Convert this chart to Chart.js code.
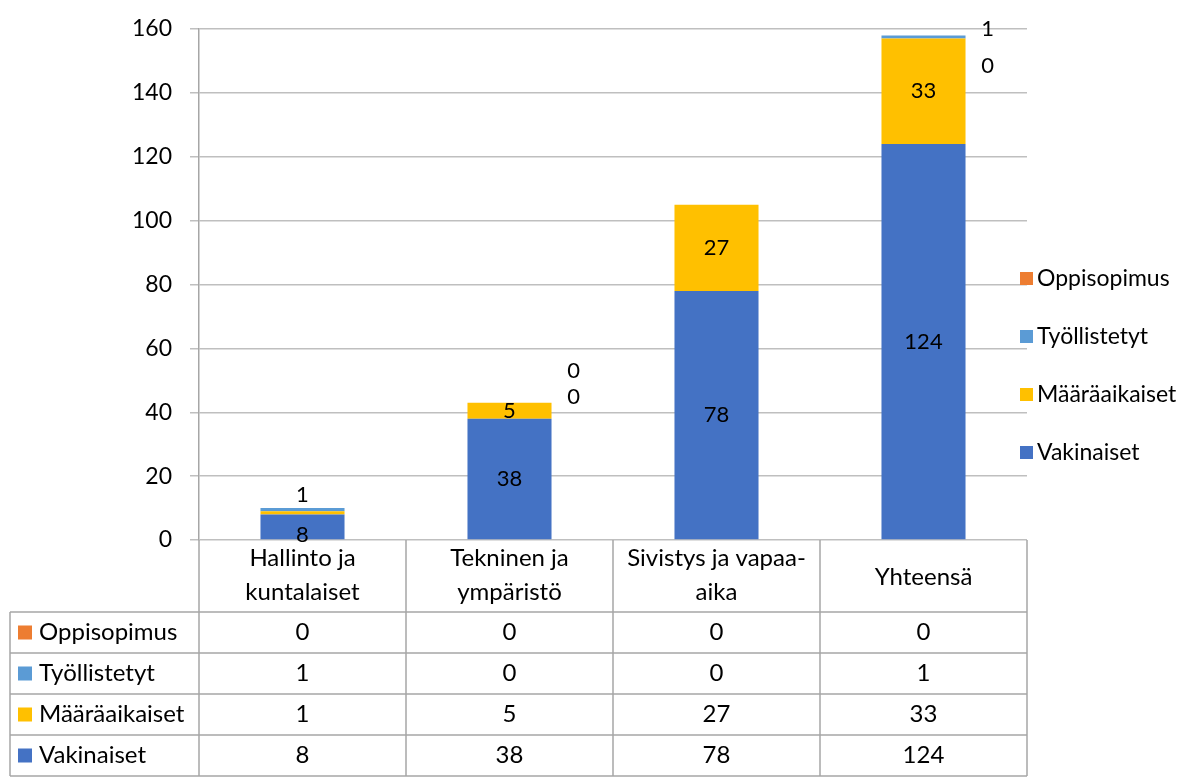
<!DOCTYPE html>
<html>
<head>
<meta charset="utf-8">
<script src="https://cdn.jsdelivr.net/npm/chart.js@4.4.0/dist/chart.umd.min.js"></script>
<style>
  html, body { margin: 0; padding: 0; background: #fff; }
  #wrap { width: 1184px; height: 778px; }
</style>
</head>
<body>
<div id="wrap"><canvas id="c" width="1184" height="778"></canvas></div>
<script>
const categories = [["Hallinto ja", "kuntalaiset"], ["Tekninen ja", "ympäristö"], ["Sivistys ja vapaa-", "aika"], ["Yhteensä"]];
const seriesNames = ["Vakinaiset", "Määräaikaiset", "Työllistetyt", "Oppisopimus"];
const vakinaiset = [8, 38, 78, 124];
const maaraaikaiset = [1, 5, 27, 33];
const tyollistetyt = [1, 0, 0, 1];
const oppisopimus = [0, 0, 0, 0];
const yTicks = [0, 20, 40, 60, 80, 100, 120, 140, 160];
const seriesColors = ["#4472C4", "#FFC000", "#5B9BD5", "#ED7D31"];

const FONT = "Lato, 'Open Sans', sans-serif";
const LINE = "#a6a6a6";

const seriesData = [vakinaiset, maaraaikaiset, tyollistetyt, oppisopimus];

const labelsPlugin = {
  id: 'segLabels',
  afterDatasetsDraw(chart, args, opts) {
    const ctx = chart.ctx;
    const hidden = opts.hideOutside || [];
    ctx.save();
    ctx.font = "22px " + FONT;
    ctx.fillStyle = "#000";
    ctx.textAlign = "center";
    ctx.textBaseline = "middle";
    const ca = chart.chartArea;
    categories.forEach((c, i) => {
      const els = [0, 1, 2, 3].map(d => chart.getDatasetMeta(d).data[i]);
      const vals = seriesData.map(s => s[i]);
      const centre = el => (el.y + el.base) / 2;
      let y0 = centre(els[0]);
      let y1 = centre(els[1]);
      if (Math.abs(y0 - y1) < 22) {
        const mid = (y0 + y1) / 2;
        y1 = mid - 25;
        y0 = mid + 15;
      }
      ctx.fillText(String(vals[0]), els[0].x, y0);
      ctx.fillText(String(vals[1]), els[1].x, y1);
      if (hidden.includes(i)) return;
      const top = els[3].y;
      const rx = els[0].x + els[0].width / 2 + 22;
      if (els[2].base - els[2].y >= 22) {
        ctx.fillText(String(vals[2]), els[2].x, centre(els[2]));
      } else {
        ctx.fillText(String(vals[2]), rx, top - 6);
      }
      if (els[3].base - els[3].y >= 22) {
        ctx.fillText(String(vals[3]), els[3].x, centre(els[3]));
      } else {
        let yo = top - 32;
        if (yo < ca.top + 6) yo = top + 31;
        ctx.fillText(String(vals[3]), rx, yo);
      }
    });
    ctx.restore();
  }
};

const tablePlugin = {
  id: 'dataTable',
  afterDraw(chart) {
    const ctx = chart.ctx;
    const ca = chart.chartArea;
    const xs = chart.scales.x;
    const n = categories.length;
    const colW = (ca.right - ca.left) / n;
    const edges = [];
    for (let k = 0; k <= n; k++) edges.push(ca.left + k * colW);
    const headTop = ca.bottom;
    const headBot = ca.bottom + 72;
    const rowH = 41;
    const tableLeft = 10;
    const rows = [3, 2, 1, 0];
    const bottom = headBot + rows.length * rowH;

    ctx.save();
    ctx.strokeStyle = LINE;
    ctx.lineWidth = 1.5;
    const line = (x1, y1, x2, y2) => { ctx.beginPath(); ctx.moveTo(x1, y1); ctx.lineTo(x2, y2); ctx.stroke(); };
    for (let r = 0; r <= rows.length; r++) {
      const y = headBot + r * rowH;
      line(tableLeft, y, ca.right, y);
    }
    line(tableLeft, headBot, tableLeft, bottom);
    edges.forEach(x => line(x, headTop, x, bottom));

    ctx.fillStyle = "#000";
    ctx.textBaseline = "middle";
    ctx.textAlign = "center";
    ctx.font = "24px " + FONT;
    categories.forEach((lines, i) => {
      const cx = xs.getPixelForValue(i);
      if (lines.length === 1) {
        ctx.fillText(lines[0], cx, headTop + 37);
      } else {
        lines.forEach((t, j) => ctx.fillText(t, cx, headTop + 18 + j * 34));
      }
    });
    ctx.font = "24px " + FONT;
    rows.forEach((d, r) => {
      const cy = headBot + r * rowH + rowH / 2;
      ctx.fillStyle = seriesColors[d];
      ctx.fillRect(tableLeft + 8, cy - 7, 14, 14);
      ctx.fillStyle = "#000";
      ctx.textAlign = "left";
      ctx.fillText(seriesNames[d], tableLeft + 29, cy);
      ctx.textAlign = "center";
      seriesData[d].forEach((v, i) => {
        ctx.fillText(String(v), xs.getPixelForValue(i), cy);
      });
    });

    ctx.font = "23px " + FONT;
    const lx = ca.right - 7;
    const ly0 = 279;
    const lstep = 58;
    rows.forEach((d, r) => {
      const cy = ly0 + r * lstep;
      ctx.fillStyle = seriesColors[d];
      ctx.fillRect(lx, cy - 7, 13, 13);
      ctx.fillStyle = "#000";
      ctx.textAlign = "left";
      ctx.fillText(seriesNames[d], lx + 17, cy);
    });
    ctx.restore();
  }
};

new Chart(document.getElementById('c'), {
  type: 'bar',
  data: {
    labels: categories,
    datasets: seriesNames.map((name, d) => ({
      label: name,
      data: seriesData[d],
      backgroundColor: seriesColors[d],
      borderWidth: 0,
      categoryPercentage: 1,
      barPercentage: 0.406
    }))
  },
  options: {
    responsive: false,
    animation: false,
    layout: { padding: { left: 0, right: 157, top: 29, bottom: 238 } },
    plugins: {
      legend: { display: false },
      tooltip: { enabled: false },
      segLabels: { hideOutside: [0, 2] }
    },
    scales: {
      x: { stacked: true, display: false },
      y: {
        stacked: true,
        min: 0,
        max: 160,
        afterFit(scale) { scale.width = 199; scale.paddingTop = 0; scale.paddingBottom = 0; },
        afterBuildTicks(scale) { scale.ticks = yTicks.map(v => ({ value: v })); },
        ticks: { color: "#000", font: { family: FONT, size: 23 }, padding: 18 },
        grid: { color: "#bfbfbf", lineWidth: 1.5, tickLength: 9, drawTicks: true },
        border: { color: LINE, width: 1.5 }
      }
    }
  },
  plugins: [labelsPlugin, tablePlugin]
});
</script>
</body>
</html>
